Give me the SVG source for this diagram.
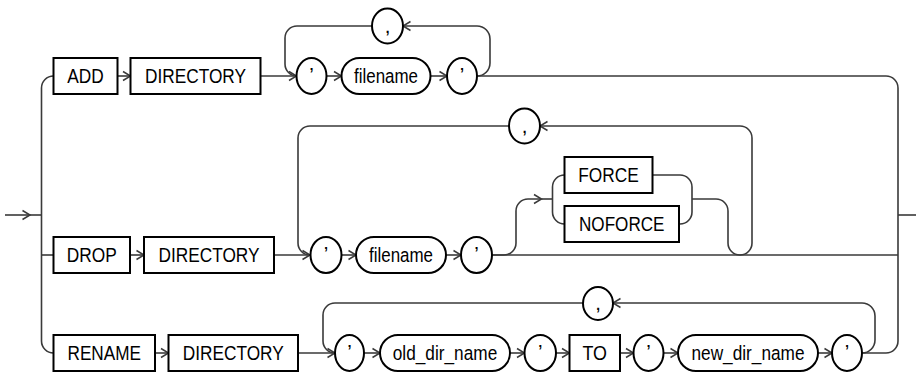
<svg xmlns="http://www.w3.org/2000/svg" width="916" height="373" viewBox="0 0 916 373">
<style>
.ln{fill:none;stroke:#3a3a3a;stroke-width:1.6}
.bx{fill:#fff;stroke:#000;stroke-width:2}
.t{font-family:"Liberation Sans",Arial,sans-serif;font-size:20.5px;fill:#000;text-anchor:middle}
</style>
<defs>
<marker id="arr" markerUnits="userSpaceOnUse" viewBox="0 0 8 10" refX="7.5" refY="5" markerWidth="8" markerHeight="10" orient="auto" overflow="visible">
<path d="M0,0.5 L7.5,5 L0,9.5" fill="none" stroke="#3a3a3a" stroke-width="1.5"/>
</marker>
</defs>
<g id="connectors">
<path class="ln" d="M5,215 H30" marker-end="url(#arr)"/>
<path class="ln" d="M30,215 H41.5"/>
<path class="ln" d="M53.5,76 A12,12 0 0 0 41.5,88 V341 A12,12 0 0 0 53.5,353"/>
<path class="ln" d="M41.5,255 H53.5"/>
<path class="ln" d="M477,76 H886 A12,12 0 0 1 898,88 V341 A12,12 0 0 1 886,353 H862"/>
<path class="ln" d="M898,215 H916"/>
<path class="ln" d="M492,255 H898"/>
<path class="ln" d="M117.5,76 H130.5" marker-end="url(#arr)"/>
<path class="ln" d="M260.5,76 H296.5" marker-end="url(#arr)"/>
<path class="ln" d="M326.5,76 H341.5" marker-end="url(#arr)"/>
<path class="ln" d="M430.5,76 H447" marker-end="url(#arr)"/>
<path class="ln" d="M477,76 A13,13 0 0 0 490,63 V39 A13,13 0 0 0 477,26 H403" marker-end="url(#arr)"/>
<path class="ln" d="M372,26 H297 A12,12 0 0 0 285,38 V64 A12,12 0 0 0 297,76"/>
<path class="ln" d="M130,255 H144" marker-end="url(#arr)"/>
<path class="ln" d="M274,255 H310" marker-end="url(#arr)"/>
<path class="ln" d="M342,255 H356" marker-end="url(#arr)"/>
<path class="ln" d="M446,255 H461" marker-end="url(#arr)"/>
<path class="ln" d="M509,126 H310 A12,12 0 0 0 298,138 V243 A12,12 0 0 0 310,255"/>
<path class="ln" d="M752,243 V138 A12,12 0 0 0 740,126 H540" marker-end="url(#arr)"/>
<path class="ln" d="M492,255 H504 A12,12 0 0 0 516,243 V211 A12,12 0 0 1 528,199 H541.5" marker-end="url(#arr)"/>
<path class="ln" d="M541.5,199 H552.5"/>
<path class="ln" d="M552.5,199 V187 A12,12 0 0 1 564.5,175"/>
<path class="ln" d="M552.5,199 V212 A12,12 0 0 0 564.5,224"/>
<path class="ln" d="M652.5,175 H680 A12,12 0 0 1 692,187 V212 A12,12 0 0 1 680,224 H679"/>
<path class="ln" d="M692,199 H716 A12,12 0 0 1 728,211 V243 A12,12 0 0 0 740,255 A12,12 0 0 0 752,243"/>
<path class="ln" d="M155,353 H168.5" marker-end="url(#arr)"/>
<path class="ln" d="M298,353 H335" marker-end="url(#arr)"/>
<path class="ln" d="M364,353 H380" marker-end="url(#arr)"/>
<path class="ln" d="M510,353 H524.5" marker-end="url(#arr)"/>
<path class="ln" d="M556,353 H569.5" marker-end="url(#arr)"/>
<path class="ln" d="M620,353 H633.5" marker-end="url(#arr)"/>
<path class="ln" d="M663.5,353 H678" marker-end="url(#arr)"/>
<path class="ln" d="M818,353 H832" marker-end="url(#arr)"/>
<path class="ln" d="M862,353 A13,13 0 0 0 875,340 V316 A13,13 0 0 0 862,303 H613" marker-end="url(#arr)"/>
<path class="ln" d="M583,303 H335 A12,12 0 0 0 323,315 V341 A12,12 0 0 0 335,353"/>
</g>
<g id="n-add"><rect class="bx" x="53.5" y="58" width="64" height="36"/><text class="t" x="85.5" y="83.3" textLength="36.5" lengthAdjust="spacingAndGlyphs">ADD</text></g>
<g id="n-dir1"><rect class="bx" x="130.5" y="58" width="130" height="36"/><text class="t" x="195.5" y="83.3" textLength="101" lengthAdjust="spacingAndGlyphs">DIRECTORY</text></g>
<g id="n-q1a"><ellipse class="bx" cx="311.5" cy="76" rx="15" ry="18"/><text class="t" x="311.5" y="82">’</text></g>
<g id="n-fn1"><rect class="bx" x="341.5" y="58" width="89" height="36" rx="18"/><text class="t" x="386" y="83.3" textLength="64" lengthAdjust="spacingAndGlyphs">filename</text></g>
<g id="n-q1b"><ellipse class="bx" cx="462" cy="76" rx="15" ry="18"/><text class="t" x="462" y="82">’</text></g>
<g id="n-c1"><ellipse class="bx" cx="387.5" cy="26" rx="15.5" ry="17.5"/><text class="t" x="387.5" y="32.5">,</text></g>
<g id="n-drop"><rect class="bx" x="53.5" y="237" width="76.5" height="36"/><text class="t" x="91.75" y="262.3" textLength="50" lengthAdjust="spacingAndGlyphs">DROP</text></g>
<g id="n-dir2"><rect class="bx" x="144" y="237" width="130" height="36"/><text class="t" x="209" y="262.3" textLength="101" lengthAdjust="spacingAndGlyphs">DIRECTORY</text></g>
<g id="n-q2a"><ellipse class="bx" cx="326" cy="255" rx="15.5" ry="18"/><text class="t" x="326" y="261">’</text></g>
<g id="n-fn2"><rect class="bx" x="356" y="237" width="90" height="36" rx="18"/><text class="t" x="401" y="262.3" textLength="64" lengthAdjust="spacingAndGlyphs">filename</text></g>
<g id="n-q2b"><ellipse class="bx" cx="476.5" cy="255" rx="15.5" ry="18"/><text class="t" x="476.5" y="261">’</text></g>
<g id="n-c2"><ellipse class="bx" cx="524.5" cy="126" rx="15.5" ry="17.5"/><text class="t" x="524.5" y="132.5">,</text></g>
<g id="n-force"><rect class="bx" x="564.5" y="157" width="88" height="36"/><text class="t" x="608.5" y="182.3" textLength="60.5" lengthAdjust="spacingAndGlyphs">FORCE</text></g>
<g id="n-noforce"><rect class="bx" x="564.5" y="206" width="114.5" height="36"/><text class="t" x="621.75" y="231.3" textLength="85.5" lengthAdjust="spacingAndGlyphs">NOFORCE</text></g>
<g id="n-rename"><rect class="bx" x="53.5" y="335" width="101.5" height="36"/><text class="t" x="104.25" y="360.3" textLength="73.5" lengthAdjust="spacingAndGlyphs">RENAME</text></g>
<g id="n-dir3"><rect class="bx" x="168.5" y="335" width="129.5" height="36"/><text class="t" x="233.25" y="360.3" textLength="101" lengthAdjust="spacingAndGlyphs">DIRECTORY</text></g>
<g id="n-q3a"><ellipse class="bx" cx="349.5" cy="353" rx="14.5" ry="18"/><text class="t" x="349.5" y="359">’</text></g>
<g id="n-old"><rect class="bx" x="380" y="335" width="130" height="36" rx="18"/><text class="t" x="445" y="360.3" textLength="104.5" lengthAdjust="spacingAndGlyphs">old_dir_name</text></g>
<g id="n-q3b"><ellipse class="bx" cx="540.25" cy="353" rx="15.75" ry="18"/><text class="t" x="540.25" y="359">’</text></g>
<g id="n-to"><rect class="bx" x="569.5" y="335" width="50.5" height="36"/><text class="t" x="594.75" y="360.3" textLength="24.5" lengthAdjust="spacingAndGlyphs">TO</text></g>
<g id="n-q3c"><ellipse class="bx" cx="648.5" cy="353" rx="15" ry="18"/><text class="t" x="648.5" y="359">’</text></g>
<g id="n-new"><rect class="bx" x="678" y="335" width="140" height="36" rx="18"/><text class="t" x="748" y="360.3" textLength="113" lengthAdjust="spacingAndGlyphs">new_dir_name</text></g>
<g id="n-q3d"><ellipse class="bx" cx="847" cy="353" rx="15" ry="18"/><text class="t" x="847" y="359">’</text></g>
<g id="n-c3"><ellipse class="bx" cx="598" cy="303.5" rx="15" ry="16.5"/><text class="t" x="598" y="310">,</text></g>
</svg>
